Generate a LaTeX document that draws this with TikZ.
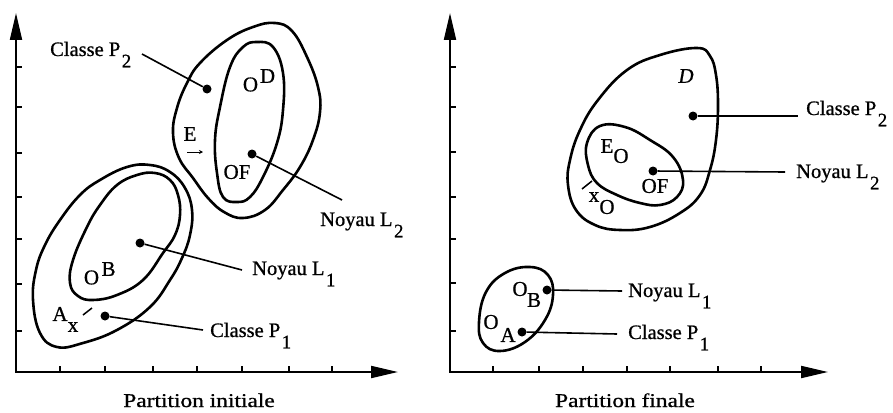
\documentclass[tikz,border=0pt]{standalone}
\usepackage{fontspec}
\setmainfont[FakeBold=0.8]{Liberation Serif}
\usetikzlibrary{arrows.meta}
\newcommand{\sbs}[1]{\hspace{1.5pt}\raisebox{-0.55em}{\fontsize{19}{20}\selectfont #1}}
\begin{document}
\begin{tikzpicture}[x=1pt,y=-1pt,
  blob/.style={line width=2.6pt, line join=round},
  lead/.style={line width=1.6pt},
  axisline/.style={line width=2pt, {Triangle[length=27pt,width=12pt]}-{Triangle[length=27pt,width=12pt]}},
  tick/.style={line width=1.5pt},
  dot/.style={circle, fill=black, inner sep=0pt, minimum size=9pt},
  lbl/.style={font=\fontsize{20.5}{22}\selectfont, inner sep=0pt, anchor=base west},
  ltr/.style={font=\fontsize{21}{22}\selectfont, inner sep=0pt},
  captxt/.style={font=\fontsize{19.5}{22}\selectfont, inner sep=0pt, anchor=base},
]
\useasboundingbox (0,0) rectangle (893,412);

% ---------- left panel axes ----------
\coordinate (o1) at (16,372);
\coordinate (y1) at (16,13);
\coordinate (x1) at (398,372);
\draw[axisline] (y1) -- (o1) -- (x1);
\foreach \t in {67,107,153,197,239,284,331} \draw[tick] (16,\t) -- (22,\t);
\foreach \t in {60,105,153,197,242,289,332} \draw[tick] (\t,372) -- (\t,366);

% ---------- right panel axes ----------
\coordinate (o2) at (450,372);
\coordinate (y2) at (450,13);
\coordinate (x2) at (828,372);
\draw[axisline] (y2) -- (o2) -- (x2);
\foreach \t in {67,107,152,197,239,283,331} \draw[tick] (450,\t) -- (456,\t);
\foreach \t in {493,539,583,627,670,718,761} \draw[tick] (\t,372) -- (\t,366);

% ---------- left panel blobs ----------
% outer P2
\draw[blob] plot[smooth cycle, tension=0.7] coordinates {
 (173,133) (177,108) (187,83) (200,63) (227,40) (253,27) (275,23) (292,31)
 (307,57) (318,87) (320,112) (313,140) (300,167) (283,190) (265,210) (243,218)
 (224,212) (208,198) (193,178) (179,158)};
% inner L2
\draw[blob] plot[smooth cycle, tension=0.7] coordinates {
 (257,42) (273,47) (283,73) (283,110) (277,143) (263,177) (250,197) (237,202)
 (223,197) (217,173) (215,140) (220,107) (230,67) (243,47)};
% outer P1
\draw[blob] plot[smooth cycle, tension=0.7] coordinates {
 (33,300) (36,270) (45,245) (60,220) (80,195) (100,180) (127,167) (150,165)
 (170,172) (185,188) (192,210) (190,235) (182,258) (170,280) (150,307) (117,330)
 (83,343) (57,347) (40,333)};
% inner L1
\draw[blob] plot[smooth cycle, tension=0.7] coordinates {
 (70,283) (73,260) (87,227) (100,205) (117,185) (137,175) (155,173) (170,180)
 (178,195) (180,215) (175,235) (163,253) (143,280) (117,295) (93,300) (78,296)};

% ---------- left panel points and labels ----------
\node[dot] (dp2a) at (207,89) {};
\node[lbl] (cp2a) at (50,56) {Classe P\sbs{2}};
\coordinate (cp2aend) at (142,54);
\draw[lead] (cp2aend) -- (dp2a);

\node[ltr] (oa) at (250.5,84.5) {O};
\node[ltr] (da) at (267.5,76) {D};
\node[ltr] (ea) at (190,134) {E};
\coordinate (ea1) at (187,152);
\coordinate (ea2) at (203,152);
\draw[line width=1pt, -{Stealth[length=4pt,width=4pt]}] (ea1) -- (ea2);
\node[ltr] (ofa) at (237,172) {OF};
\node[dot] (dl2a) at (252,154) {};
\node[lbl] (nl2a) at (320,226) {Noyau L\sbs{2}};
\coordinate (nl2aend) at (342,200);
\draw[lead] (dl2a) -- (nl2aend);

\node[ltr] (ob) at (91.5,277.5) {O};
\node[ltr] (bb) at (108.5,269) {B};
\node[dot] (dl1a) at (140,243) {};
\node[lbl] (nl1a) at (252,275) {Noyau L\sbs{1}};
\coordinate (nl1aend) at (242,270);
\draw[lead] (dl1a) -- (nl1aend);

\node[ltr] (aa) at (60,314) {A};
\node[ltr] (xa) at (73,327) {x};
\coordinate (sa1) at (83,315);
\coordinate (sa2) at (92,308);
\draw[line width=1.5pt] (sa1) -- (sa2);
\node[dot] (dp1a) at (105,316) {};
\node[lbl] (cp1a) at (210,337) {Classe P\sbs{1}};
\coordinate (cp1aend) at (203,330);
\draw[lead] (dp1a) -- (cp1aend);

\node[captxt] (capa) at (199,407) {\scalebox{1.2}[1]{Partition initiale}};

% ---------- right panel blobs ----------
% outer P2
\draw[blob] plot[smooth cycle, tension=0.7] coordinates {
 (627,70) (660,55) (697,48) (710,56) (716,75) (718,105) (716,140) (710,170)
 (700,195) (680,213) (650,227) (620,230) (595,225) (576,210) (568,185) (570,160)
 (580,130) (598,100)};
% inner L2
\draw[blob] plot[smooth cycle, tension=0.7] coordinates {
 (587,143) (600,126) (625,127) (650,140) (673,157) (683,180) (677,197) (660,205)
 (640,203) (617,195) (597,183) (588,165)};
% P1
\draw[blob] plot[smooth cycle, tension=0.7] coordinates {
 (479,322) (486,292) (505,273) (530,267) (548,275) (553,295) (545,320) (525,342)
 (500,351) (483,343)};

% ---------- right panel points and labels ----------
\node[ltr, font=\fontsize{21}{22}\selectfont\itshape] (db) at (686,76) {D};
\node[dot] (dp2b) at (693,116) {};
\node[lbl] (cp2b) at (806,115) {Classe P\sbs{2}};
\coordinate (cp2bend) at (798,116);
\draw[lead] (dp2b) -- (cp2bend);

\node[ltr] (eb) at (607,146) {E};
\node[ltr] (eob) at (621,156) {O};
\node[ltr] (ofb) at (655,186) {OF};
\node[dot] (dl2b) at (653,171) {};
\node[lbl] (nl2b) at (796,178) {Noyau L\sbs{2}};
\coordinate (nl2bend) at (785,172);
\draw[lead] (dl2b) -- (nl2bend);

\coordinate (sb1) at (582,189);
\coordinate (sb2) at (592,181);
\draw[line width=1.5pt] (sb1) -- (sb2);
\node[ltr] (xb) at (594,197) {x};
\node[ltr] (xob) at (607,207) {O};

\node[ltr] (obb) at (520,289) {O};
\node[ltr] (bbb) at (534,300) {B};
\node[dot] (dl1b) at (547,290) {};
\node[lbl] (nl1b) at (628,297) {Noyau L\sbs{1}};
\coordinate (nl1bend) at (622,291);
\draw[lead] (dl1b) -- (nl1bend);

\node[ltr] (oab) at (491,322) {O};
\node[ltr] (aab) at (508,335) {A};
\node[dot] (dp1b) at (522,332) {};
\node[lbl] (cp1b) at (628,339) {Classe P\sbs{1}};
\coordinate (cp1bend) at (617,334);
\draw[lead] (dp1b) -- (cp1bend);

\node[captxt] (capb) at (625,407) {\scalebox{1.2}[1]{Partition finale}};
\end{tikzpicture}
\end{document}
